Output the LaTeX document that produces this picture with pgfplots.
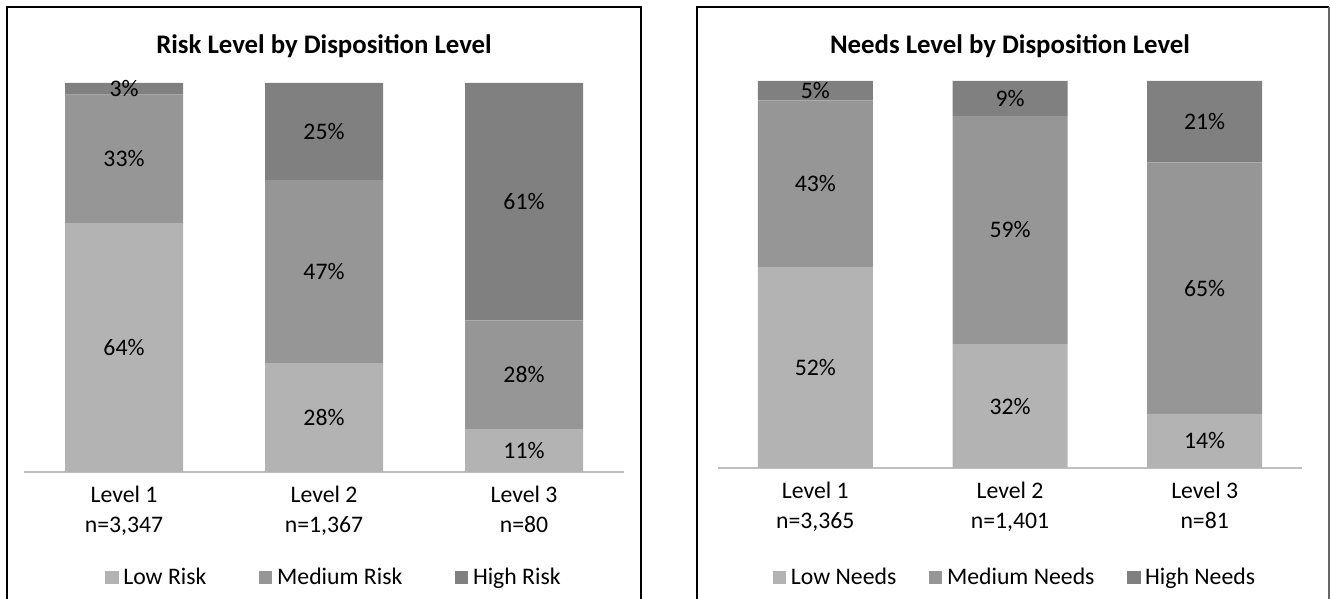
\documentclass[border=0pt]{standalone}
\usepackage{pgfplots}
\usepackage{pgfplotstable}
\pgfplotsset{compat=1.18}
\usepackage{fontspec}
\setmainfont{Carlito}
\definecolor{lowc}{RGB}{179,179,179}
\definecolor{medc}{RGB}{150,150,150}
\definecolor{highc}{RGB}{128,128,128}
\definecolor{axc}{RGB}{191,191,191}
\pgfplotstableread{
x low med high
0 64 33 3
1 28 47 25
2 11 28 61
}\risk
\pgfplotstableread{
x low med high
0 52 43 5
1 32 59 9
2 14 65 21
}\needs
\pgfplotsset{
  mybars/.style={
    ybar stacked,
    scale only axis,
    clip=false,
    ymin=0, ymax=100,
    xmin=-0.5, xmax=2.5,
    axis y line=none,
    axis x line=bottom,
    x axis line style={-, draw=axc, line width=1.5pt},
    xtick={0,1,2},
    major tick length=0pt,
    xtick style={draw=none},
    xticklabel style={align=center, font=\fontsize{17.8}{22.5}\selectfont, anchor=north, inner sep=0pt, yshift=-10.4pt},
    visualization depends on={rawy \as \rawy},
    nodes near coords={\pgfmathprintnumber[assume math mode=true,fixed,precision=0]{\rawy}\%},
    every node near coord/.append style={anchor=center, font=\fontsize{17.8}{20}\selectfont, text=black},
    legend columns=3,
    legend style={draw=none, fill=none, font=\fontsize{17.8}{20}\selectfont, at={(0.5,0)}, anchor=center, nodes={inner sep=1.5pt},
      /tikz/every odd column/.append style={column sep=2pt}},
    legend image code/.code={\fill[##1] (0pt,-5.2pt) rectangle (10pt,4.8pt);},
    title style={font=\bfseries\fontsize{20.1}{22}\selectfont, anchor=base, at={(0.5,1)}, inner sep=0pt},
  },
}
\begin{document}
\begin{tikzpicture}
\useasboundingbox (0,0) rectangle (997.5pt,449.25pt);
\draw[black, line width=1.1pt] (5.25pt,0) -- (5.25pt,444pt) -- (480.75pt,444pt) -- (480.75pt,0);
\draw[black, line width=1.1pt] (522.75pt,0) -- (522.75pt,444pt) -- (996.75pt,444pt);
\draw[black!60, line width=1.1pt] (996.75pt,444pt) -- (996.75pt,0);
\begin{axis}[mybars, at={(18pt,95.25pt)}, anchor=south west, width=450pt, height=291.75pt, bar width=88.5pt,
  title={Risk Level by Disposition Level}, title style={yshift=15.75pt},
  xticklabels={{Level 1\\n=3,347},{Level 2\\n=1,367},{Level 3\\n=80}},
  legend style={xshift=7.5pt, yshift=-78.75pt, /tikz/every even column/.append style={column sep=38pt}}]
\addplot[fill=lowc, draw=none] table[x=x,y=low]{\risk};
\addlegendentry{Low Risk}
\addplot[fill=medc, draw=none] table[x=x,y=med]{\risk};
\addlegendentry{Medium Risk}
\addplot[fill=highc, draw=none] table[x=x,y=high]{\risk};
\addlegendentry{High Risk}
\end{axis}
\begin{axis}[mybars, at={(538.5pt,98.25pt)}, anchor=south west, width=438pt, height=290.25pt, bar width=86.25pt,
  title={Needs Level by Disposition Level}, title style={yshift=14.25pt},
  xticklabels={{Level 1\\n=3,365},{Level 2\\n=1,401},{Level 3\\n=81}},
  legend style={xshift=3.75pt, yshift=-81.75pt, /tikz/every even column/.append style={column sep=23pt}}]
\addplot[fill=lowc, draw=none] table[x=x,y=low]{\needs};
\addlegendentry{Low Needs}
\addplot[fill=medc, draw=none] table[x=x,y=med]{\needs};
\addlegendentry{Medium Needs}
\addplot[fill=highc, draw=none] table[x=x,y=high]{\needs};
\addlegendentry{High Needs}
\end{axis}
\end{tikzpicture}
\end{document}
